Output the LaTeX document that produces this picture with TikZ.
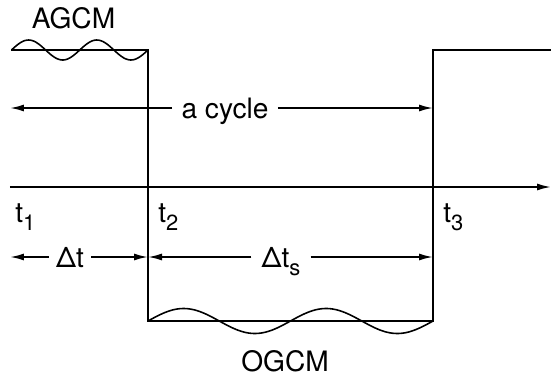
\documentclass[tikz,border=0pt]{standalone}
\usepackage{fontspec}
\setmainfont{TeX Gyre Heros}
\usetikzlibrary{arrows.meta, positioning}
\newcommand{\lowsub}[1]{\raisebox{-0.55ex}{\fontsize{12.5}{14}\selectfont #1}}

\begin{document}
\begin{tikzpicture}[
          lvl/.style={line width=1.1pt},
          wave/.style={line width=0.9pt, smooth},
          dim/.style={-{Latex[length=2.8mm, width=1.4mm]}, line width=1pt},
          lbl/.style={font=\fontsize{16}{18}\selectfont, inner sep=0pt},
          gap/.style={lbl, inner xsep=4pt}
        ]
        \useasboundingbox (0,0) rectangle (11.02,7.52);
        % corners of the square wave
        \coordinate (a0) at (0.23, 6.52);
        \coordinate (a1) at (2.96, 6.52);
        \coordinate (o0) at (2.96, 1.10);
        \coordinate (o1) at (8.66, 1.10);
        \coordinate (a2) at (8.66, 6.52);
        \coordinate (a3) at (11.02, 6.52);
        % square wave
        \draw[lvl] (a0) -- (a1) -- (o0) -- (o1) -- (a2) -- (a3);
        % fluctuations
        \draw[wave] plot[domain=0.23:2.96, samples=80]
              (\x, {6.52 + 0.2*sin(720*(\x-0.23)/2.73)});
        \draw[wave] plot[domain=2.96:8.66, samples=120]
              (\x, {1.10 + 0.25*sin(720*(\x-2.96)/5.70)});
        % model names
        \node[lbl] (agcm) at (1.47, 7.15) {AGCM};
        \node[lbl] (ogcm) at (5.70, 0.30) {OGCM};

        % one cycle
        \coordinate (c0) at (0.20, 5.36);
        \coordinate (c1) at (8.66, 5.36);
        \node[lbl, inner xsep=0.18cm] (cyc) at (4.50, 5.30) {a cycle};
        \draw[dim] (cyc.west |- c0) -- (c0);
        \draw[dim] (cyc.east |- c1) -- (c1);

        % time axis
        \coordinate (x0) at (0.20, 3.78);
        \coordinate (x1) at (11.02, 3.78);
        \draw[dim] (x0) -- (x1);
        \node[lbl, anchor=north west] (t1) at (0.30, 3.46) {t\lowsub{1}};
        \node[lbl, anchor=north west] (t2) at (3.16, 3.46) {t\lowsub{2}};
        \node[lbl, anchor=north west] (t3) at (8.86, 3.46) {t\lowsub{3}};

        % intervals
        \coordinate (d0) at (0.20, 2.38);
        \coordinate (d1) at (2.96, 2.38);
        \coordinate (d2) at (8.66, 2.38);
        \node[gap] (dt)  at (1.40, 2.36) {Δt};
        \node[gap, inner xsep=0.2cm] (dts) at (5.62, 2.28) {Δt\lowsub{s}};
        \draw[dim] (dt.west |- d0) -- (d0);
        \draw[dim] (dt.east |- d1) -- (d1);
        \draw[dim] (dts.west |- d1) -- (d1);
        \draw[dim] (dts.east |- d2) -- (d2);
      \end{tikzpicture}
\end{document}
